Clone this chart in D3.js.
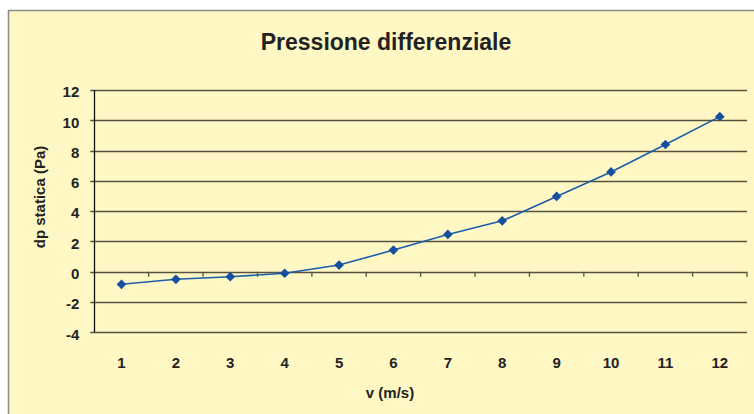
<!DOCTYPE html>
<html>
<head>
<meta charset="utf-8">
<script src="https://cdn.jsdelivr.net/npm/d3@7"></script>
<style>
  body { margin: 0; background: #fff; }
  svg { display: block; font-family: "Liberation Sans", Arial, sans-serif; }
  .tick text { font-weight: bold; fill: #222; }
</style>
</head>
<body>
<div id="chart"></div>
<script>
// categories (v in m/s) and measured dp statica (Pa)
const speeds = ['1', '2', '3', '4', '5', '6', '7', '8', '9', '10', '11', '12'];
const dp = [-0.83, -0.5, -0.33, -0.1, 0.44, 1.43, 2.46, 3.36, 4.97, 6.59, 8.4, 10.24];
const yTicks = [-4, -2, 0, 2, 4, 6, 8, 10, 12];

const W = 754, H = 414,
  plot = { left: 94.3, right: 747, top: 90, bottom: 332.3 };

const svg = d3.select('#chart')
  .append('svg')
    .attr('width', W)
    .attr('height', H);

// yellow frame, running off the right and bottom edges
svg.append('rect')
  .attr('x', 8.5)
  .attr('y', 10.5)
  .attr('width', W + 10)
  .attr('height', H + 10)
  .attr('fill', '#fff8c4')
  .attr('stroke', '#8a8a8a')
  .attr('stroke-width', 1.5);

const x = d3.scaleBand()
  .domain(speeds)
  .range([plot.left, plot.right])
  .padding(0);

const y = d3.scaleLinear()
  .domain([-4, 12])
  .range([plot.bottom, plot.top]);

// horizontal gridlines (stick out 4px left of the axis)
svg.append('g')
  .attr('class', 'grid')
  .selectAll('line')
  .data(yTicks)
  .enter()
  .append('line')
    .attr('x1', plot.left - 4)
    .attr('x2', plot.right)
    .attr('y1', d => Math.round(y(d)) + 0.5)
    .attr('y2', d => Math.round(y(d)) + 0.5)
    .attr('stroke', '#57523f')
    .attr('stroke-width', 1.3);

// y axis labels (plain hyphen for negatives, like the original)
const yAxis = d3.axisLeft(y)
  .tickValues(yTicks)
  .tickFormat(d => String(d))
  .tickSize(0)
  .tickPadding(15);
svg.append('g')
  .attr('transform', `translate(${plot.left},2)`)
  .call(yAxis)
  .call(g => g.select('.domain').remove())
  .selectAll('text')
    .style('font-size', '15px');

// vertical axis line
svg.append('line')
  .attr('x1', Math.round(plot.left) + 0.5)
  .attr('x2', Math.round(plot.left) + 0.5)
  .attr('y1', y(12))
  .attr('y2', y(-4))
  .attr('stroke', '#111')
  .attr('stroke-width', 1.3);

// category tick marks hanging from the zero line
const boundaries = speeds.map(d => x(d) + x.bandwidth());
svg.append('g')
  .attr('class', 'xticks')
  .selectAll('line')
  .data(boundaries)
  .enter()
  .append('line')
    .attr('x1', d => d)
    .attr('x2', d => d)
    .attr('y1', y(0))
    .attr('y2', y(0) + 5)
    .attr('stroke', '#57523f')
    .attr('stroke-width', 1.3);

// x axis labels at the bottom
const xAxis = d3.axisBottom(x)
  .tickSize(0)
  .tickPadding(0);
svg.append('g')
  .attr('transform', `translate(0,${plot.bottom + 25})`)
  .call(xAxis)
  .call(g => g.select('.domain').remove())
  .selectAll('text')
    .style('font-size', '15px');

// series line + diamond markers
const cx = d => x(d) + x.bandwidth() / 2;
const line = d3.line()
  .x((d, i) => cx(speeds[i]))
  .y(d => y(d));

svg.append('path')
  .datum(dp)
  .attr('d', line)
  .attr('fill', 'none')
  .attr('stroke', '#1b5cab')
  .attr('stroke-width', 1.6);

svg.append('g')
  .selectAll('path')
  .data(dp)
  .enter()
  .append('path')
    .attr('d', d3.symbol(d3.symbolDiamond2, 60))
    .attr('transform', (d, i) => `translate(${cx(speeds[i])},${y(d)})`)
    .attr('fill', '#1550a0');

// titles
svg.append('text')
  .attr('x', 386)
  .attr('y', 50)
  .attr('text-anchor', 'middle')
  .style('font-size', '23px')
  .style('font-weight', 'bold')
  .attr('fill', '#222')
  .text('Pressione differenziale');

svg.append('text')
  .attr('x', 390)
  .attr('y', 398)
  .attr('text-anchor', 'middle')
  .style('font-size', '15px')
  .style('font-weight', 'bold')
  .attr('fill', '#222')
  .text('v (m/s)');

svg.append('text')
  .attr('transform', 'translate(45,197) rotate(-90)')
  .attr('text-anchor', 'middle')
  .style('font-size', '15px')
  .style('font-weight', 'bold')
  .attr('fill', '#222')
  .text('dp statica (Pa)');
</script>
</body>
</html>
